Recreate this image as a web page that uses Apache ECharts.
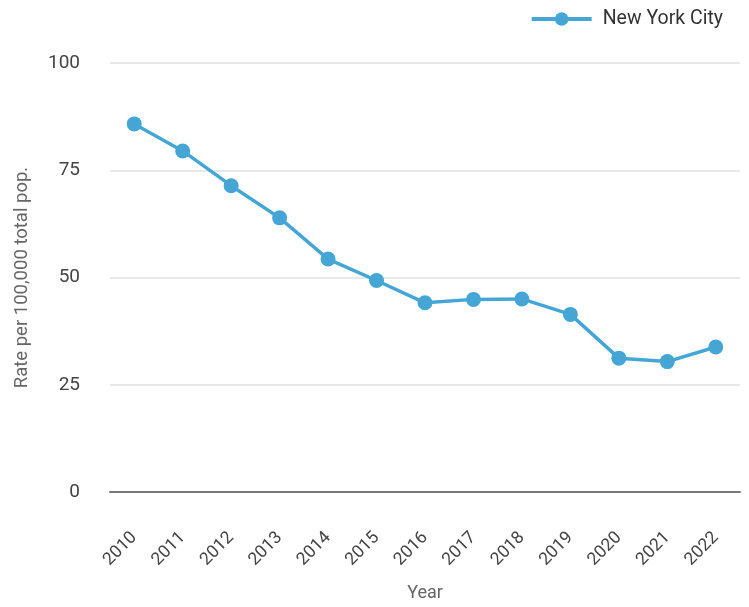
<!DOCTYPE html>
<html>
<head>
<meta charset="utf-8">
<script src="https://cdn.jsdelivr.net/npm/echarts@6/dist/echarts.min.js"></script>
<style>
  html, body { margin: 0; padding: 0; background: #fff; }
  #chart { width: 749px; height: 607px; }
</style>
</head>
<body>
<div id="chart"></div>
<script>
// years on the x axis
const years = ["2010", "2011", "2012", "2013", "2014", "2015", "2016",
    "2017", "2018", "2019", "2020", "2021", "2022"];
// rate per 100,000 total pop.
const nycRate = [85.8, 79.5, 71.4, 63.9, 54.3, 49.3, 44.1, 44.9, 45.0, 41.4, 31.2, 30.4, 33.8];
const yTicks = [0, 25, 50, 75, 100];

const lineColor = "#45a6d6";
const fontFamily = "Roboto, 'Noto Sans', sans-serif";

const chart = echarts.init(document.getElementById("chart"));
chart.setOption({
    animation: false,
    textStyle: { fontFamily: fontFamily },
    legend: {
        top: 4,
        right: 21,
        itemWidth: 60,
        itemHeight: 17,
        itemGap: 10,
        textStyle: {
            fontSize: 19.5,
            color: "#333",
            fontFamily: fontFamily,
            padding: [0, 0, 0, 6],
        },
        data: [{ name: "New York City", itemStyle: { color: lineColor }, lineStyle: { width: 4 } }],
    },
    grid: {
        left: 110,
        right: 9,
        top: 63,
        bottom: 113.5,
    },
    xAxis: {
        type: "category",
        data: years,
        name: "Year",
        nameLocation: "middle",
        nameGap: 92,
        nameTextStyle: { fontSize: 18, color: "#666" },
        axisLine: { lineStyle: { color: "#777", width: 2 } },
        axisTick: { show: false },
        axisLabel: {
            rotate: 45,
            margin: 43,
            fontSize: 17.5,
            color: "#444",
            interval: 0,
        },
    },
    yAxis: {
        type: "value",
        min: yTicks[0],
        max: yTicks[yTicks.length - 1],
        interval: 25,
        name: "Rate per 100,000 total pop.",
        nameLocation: "middle",
        nameGap: 78,
        nameTextStyle: { fontSize: 18.5, color: "#666" },
        axisLine: { show: false },
        axisTick: { show: false },
        axisLabel: { margin: 30, fontSize: 19, color: "#444" },
        splitLine: { lineStyle: { color: "#e8e8e8", width: 2 } },
    },
    series: [
        {
            name: "New York City",
            type: "line",
            data: nycRate,
            symbol: "circle",
            symbolSize: 15,
            itemStyle: { color: lineColor },
            lineStyle: { color: lineColor, width: 3.5 },
        },
    ],
});
</script>
</body>
</html>
